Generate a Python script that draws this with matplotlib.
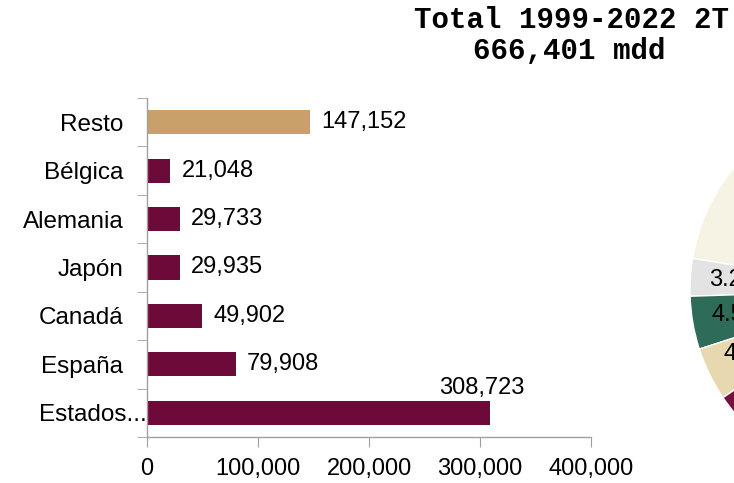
import matplotlib
matplotlib.use("Agg")
import matplotlib.pyplot as plt
import matplotlib.transforms as mtransforms
import numpy as np

# ---- data ----
categories = ["Estados...", "España", "Canadá", "Japón", "Alemania", "Bélgica", "Resto"]
values = [308723, 79908, 49902, 29935, 29733, 21048, 147152]
bar_colors = ["#6e0a3a", "#6e0a3a", "#6e0a3a", "#6e0a3a", "#6e0a3a", "#6e0a3a", "#c9a06a"]
xticks = [0, 100000, 200000, 300000, 400000]
xtick_labels = ["0", "100,000", "200,000", "300,000", "400,000"]
value_labels = ["308,723", "79,908", "49,902", "29,935", "29,733", "21,048", "147,152"]

# pie: counterclockwise order
pie_names = ["Resto", "Bélgica", "Alemania", "Japón", "Canadá", "España", "Estados..."]
pie_values = [147152, 21048, 29733, 29935, 49902, 79908, 308723]
pie_colors = ["#f6f2e4", "#e3e3e3", "#2e6b58", "#e8d8b0", "#76103e", "#b8966a", "#5a0a30"]

title_lines = ["Total 1999-2022 2T", "666,401 mdd"]

W, H = 734, 483
fig = plt.figure(figsize=(W / 100, H / 100), dpi=100)
fig.patch.set_facecolor("white")

font = "Liberation Sans"
fs_cat = 17.5
fs_tick = 17
fs_val = 17

# ---- bar chart ----
ax = fig.add_axes([147 / W, (H - 437) / H, 444 / W, 339 / H])
y = np.arange(len(categories))
ax.barh(y, values, height=0.5, color=bar_colors, edgecolor="none")
ax.set_xlim(0, 400000)
ax.set_ylim(-0.5, len(categories) - 0.5)
for s in ["top", "right"]:
    ax.spines[s].set_visible(False)
for s in ["left", "bottom"]:
    ax.spines[s].set_color("#a0a0a0")
    ax.spines[s].set_linewidth(1.0)

ax.set_xticks(xticks)
ax.set_xticklabels(xtick_labels, fontfamily=font, fontsize=fs_tick)
ax.tick_params(axis="x", length=7, color="#a0a0a0", pad=8, direction="out")

ax.set_yticks(y)
ax.set_yticklabels(categories, fontfamily=font, fontsize=fs_cat)
ax.tick_params(axis="y", which="major", length=0, pad=17)
ax.set_yticks(np.arange(-0.5, len(categories), 1.0), minor=True)
ax.tick_params(axis="y", which="minor", length=7, color="#a0a0a0", direction="out")

# the truncated first label sits right against the axis
lbl0 = ax.get_yticklabels()[0]
lbl0.set_transform(lbl0.get_transform() +
                   mtransforms.ScaledTranslation(0.235, 0, fig.dpi_scale_trans))

for i, (v, lab) in enumerate(zip(values, value_labels)):
    if v == max(values):
        ax.annotate(lab, xy=(v, i), xytext=(-6, 18), textcoords="offset points",
                    ha="center", va="center", fontfamily=font, fontsize=fs_val)
    else:
        ax.annotate(lab, xy=(v, i), xytext=(8, 0), textcoords="offset points",
                    ha="left", va="center", fontfamily=font, fontsize=fs_val)

# ---- pie chart (mostly off-canvas) ----
cx, cy, r = 882, 290, 192
pax = fig.add_axes([(cx - r) / W, (H - cy - r) / H, 2 * r / W, 2 * r / H])
wedges, texts, autotexts = pax.pie(
    pie_values, colors=pie_colors, startangle=91, counterclock=True,
    autopct="%.1f%%", pctdistance=0.76, radius=1.0,
    wedgeprops=dict(edgecolor="white", linewidth=1.0),
    textprops=dict(fontfamily=font, fontsize=fs_val, color="black"))
pax.set_xlim(-1, 1)
pax.set_ylim(-1, 1)
pax.set_aspect("equal")
pax.axis("off")

# ---- title ----
fig.text(571 / W, 1 - 20 / H, title_lines[0], ha="center", va="center",
         fontfamily="Liberation Mono", fontweight="bold", fontsize=21)
fig.text(569 / W, 1 - 51 / H, title_lines[1], ha="center", va="center",
         fontfamily="Liberation Mono", fontweight="bold", fontsize=21)

fig.savefig("out.png", dpi=100)
